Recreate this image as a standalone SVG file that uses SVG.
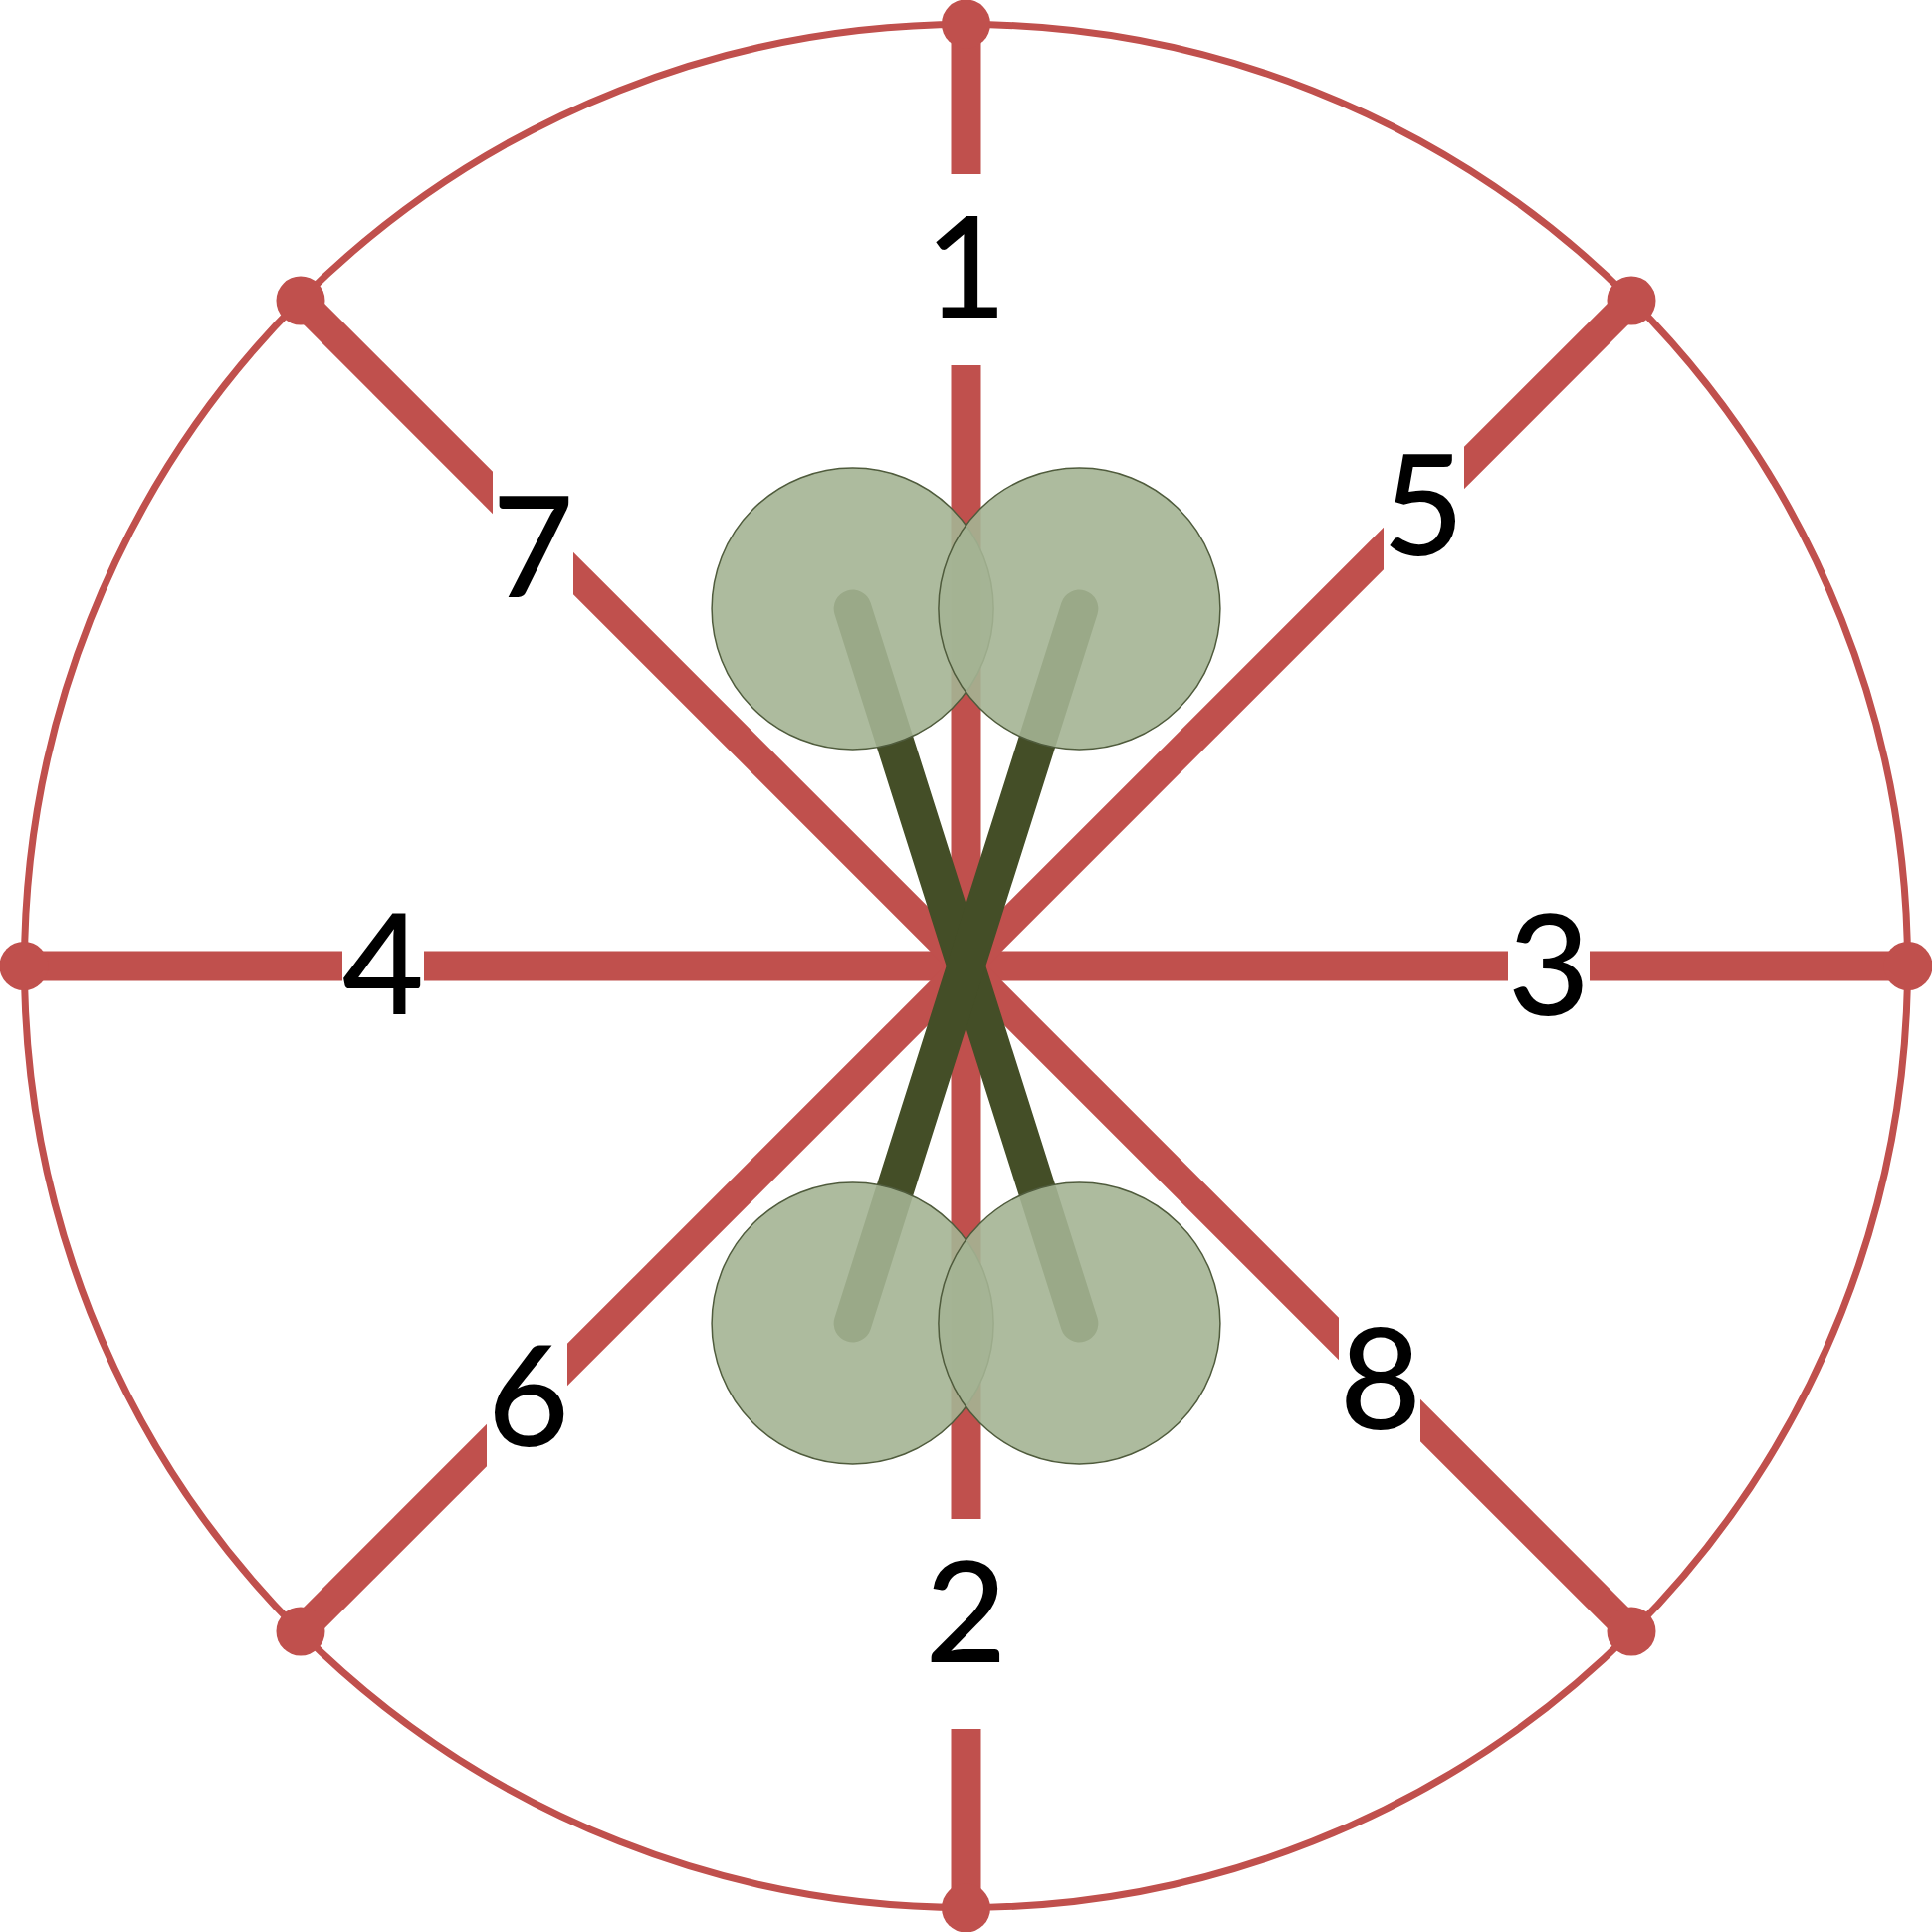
<svg xmlns="http://www.w3.org/2000/svg" width="1941" height="1941" viewBox="0 0 1941 1941">
  <style>
    .spoke { stroke: #c0504d; stroke-width: 30; stroke-linecap: butt; fill: none; }
    .dot { fill: #c0504d; }
    .rod { stroke: #444e27; stroke-width: 38; stroke-linecap: round; fill: none; }
    .ball { fill: #a4b493; fill-opacity: 0.9; stroke: #4f5b3c; stroke-width: 1.5; }
    .lbl { font-family: Lato, "Open Sans", sans-serif; font-weight: 500; font-size: 142px; fill: #000; text-anchor: middle; }
  </style>
  <defs>
    <mask id="gaps" maskUnits="userSpaceOnUse" x="0" y="0" width="1941" height="1941">
      <rect x="0" y="0" width="1941" height="1941" fill="#fff"/>
      <rect x="930" y="175" width="80" height="192" fill="#000"/>
      <rect x="930" y="1526" width="80" height="211" fill="#000"/>
      <rect x="344" y="930" width="82" height="80" fill="#000"/>
      <rect x="1515" y="930" width="82" height="80" fill="#000"/>
      <rect x="495" y="440" width="81" height="200" fill="#000"/>
      <rect x="1390" y="420" width="81" height="180" fill="#000"/>
      <rect x="489" y="1330" width="81" height="170" fill="#000"/>
      <rect x="1345" y="1300" width="82" height="170" fill="#000"/>
    </mask>
  </defs>
  <rect x="0" y="0" width="1941" height="1941" fill="#fff"/>
  <circle cx="970.5" cy="970.5" r="946" fill="none" stroke="#c0504d" stroke-width="7"/>
  <g id="connectors">
    <g mask="url(#gaps)">
      <line class="spoke" x1="970.5" y1="24" x2="970.5" y2="1917"/>
      <line class="spoke" x1="24" y1="970.5" x2="1917" y2="970.5"/>
      <line class="spoke" x1="302" y1="302" x2="1639" y2="1639"/>
      <line class="spoke" x1="1639" y1="302" x2="302" y2="1639"/>
    </g>
    <circle class="dot" cx="970.5" cy="24" r="24.5"/>
    <circle class="dot" cx="970.5" cy="1917" r="24.5"/>
    <circle class="dot" cx="24" cy="970.5" r="24.5"/>
    <circle class="dot" cx="1917" cy="970.5" r="24.5"/>
    <circle class="dot" cx="302" cy="302" r="24.5"/>
    <circle class="dot" cx="1639" cy="302" r="24.5"/>
    <circle class="dot" cx="302" cy="1639" r="24.5"/>
    <circle class="dot" cx="1639" cy="1639" r="24.5"/>
    <line class="rod" x1="856.6" y1="611.5" x2="1084.4" y2="1329.5"/>
    <line class="rod" x1="1084.4" y1="611.5" x2="856.6" y2="1329.5"/>
  </g>
  <g id="ball-top-left"><circle class="ball" cx="856.6" cy="611.5" r="141.5"/></g>
  <g id="ball-top-right"><circle class="ball" cx="1084.4" cy="611.5" r="141.5"/></g>
  <g id="ball-bottom-left"><circle class="ball" cx="856.6" cy="1329.5" r="141.5"/></g>
  <g id="ball-bottom-right"><circle class="ball" cx="1084.4" cy="1329.5" r="141.5"/></g>
  <g id="labels">
    <text class="lbl" x="970.5" y="319">1</text>
    <text class="lbl" x="970.5" y="1670">2</text>
    <text class="lbl" x="1556" y="1020">3</text>
    <text class="lbl" x="385" y="1019">4</text>
    <text class="lbl" x="1430" y="558">5</text>
    <text class="lbl" x="531" y="1453">6</text>
    <text class="lbl" x="535.5" y="600">7</text>
    <text class="lbl" x="1387" y="1436">8</text>
  </g>
</svg>
